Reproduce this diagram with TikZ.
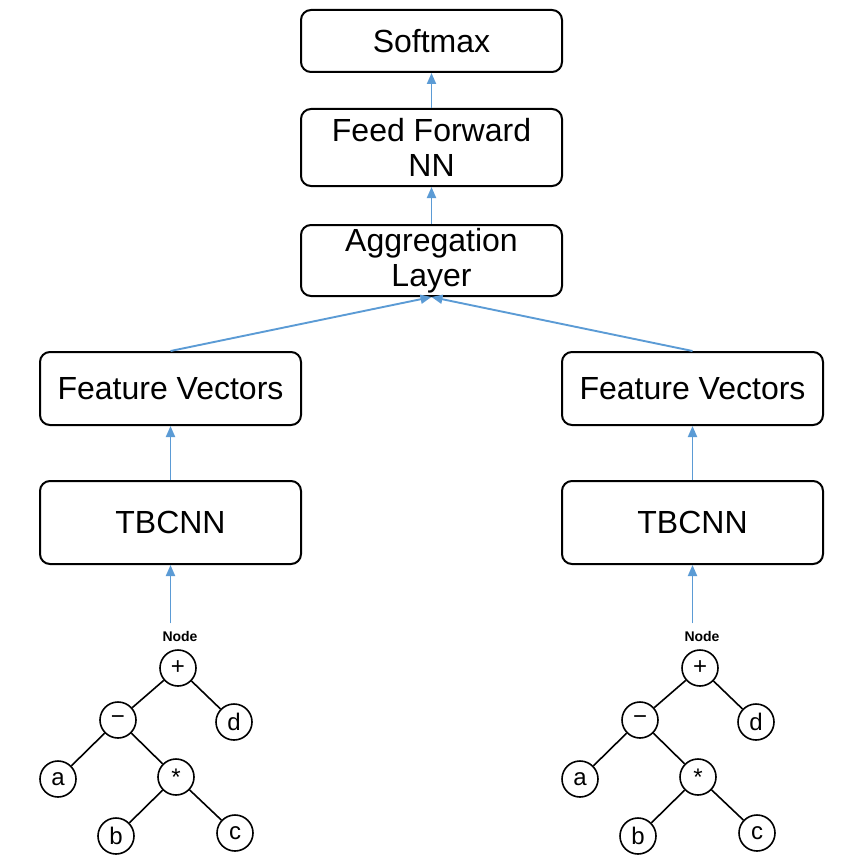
\documentclass[tikz,border=0pt]{standalone}
\usepackage{fontspec}
\setmainfont{Liberation Sans}
\usetikzlibrary{positioning, arrows.meta}

\definecolor{arrowblue}{RGB}{91,155,213}

\tikzset{
  layer/.style={draw, line width=2pt, rounded corners=10pt, minimum width=261pt,
    align=center, inner sep=0pt, font=\fontsize{32}{35}\selectfont},
  tnode/.style={draw, circle, line width=1.6pt, minimum size=36pt, inner sep=0pt,
    font=\fontsize{24}{24}\selectfont},
  flow/.style={-{Triangle[length=11pt,width=9pt]}, line width=1.9pt, arrowblue},
  branch/.style={line width=1.6pt}
}

\begin{document}
\begin{tikzpicture}[x=1pt, y=-1pt]
  \useasboundingbox (0,0) rectangle (840,864);

  % top stack
  \node[layer, minimum height=62pt] (softmax) at (431.5,41) {Softmax};
  \node[layer, minimum height=77pt] (ffnn) at (431.5,147.5) {Feed Forward\\NN};
  \node[layer, minimum height=71pt] (agg) at (431.5,260.5) {Aggregation\\Layer};

  % two branches
  \foreach \s/\dx in {l/0, r/522} {
    \begin{scope}[xshift=\dx]
      \node[layer, minimum height=73pt] (\s-fv) at (170.5,388.5) {Feature Vectors};
      \node[layer, minimum height=83pt] (\s-cnn) at (170.5,522.5) {TBCNN};

      % expression tree
      \node[font=\bfseries\fontsize{14}{14}\selectfont] (\s-label) at (180,636) {Node};
      \node[tnode] (\s-plus) at (178,668) {+};
      \node[tnode] (\s-minus) at (118,720) {−};
      \node[tnode] (\s-d) at (234,722) {d};
      \node[tnode] (\s-a) at (58,779) {a};
      \node[tnode] (\s-star) at (176,777) {*};
      \node[tnode] (\s-b) at (116,836) {b};
      \node[tnode] (\s-c) at (235,833) {c};
      \draw[branch] (\s-plus) -- (\s-minus);
      \draw[branch] (\s-plus) -- (\s-d);
      \draw[branch] (\s-minus) -- (\s-a);
      \draw[branch] (\s-minus) -- (\s-star);
      \draw[branch] (\s-star) -- (\s-b);
      \draw[branch] (\s-star) -- (\s-c);

      \draw[flow, shorten <=4pt] (\s-label.north -| \s-cnn.south) -- (\s-cnn.south);
      \draw[flow] (\s-cnn.north) -- (\s-fv.south);
      \draw[flow] (\s-fv.north) -- (agg.south);
    \end{scope}
  }

  \draw[flow] (agg.north) -- (ffnn.south);
  \draw[flow] (ffnn.north) -- (softmax.south);
\end{tikzpicture}
\end{document}
